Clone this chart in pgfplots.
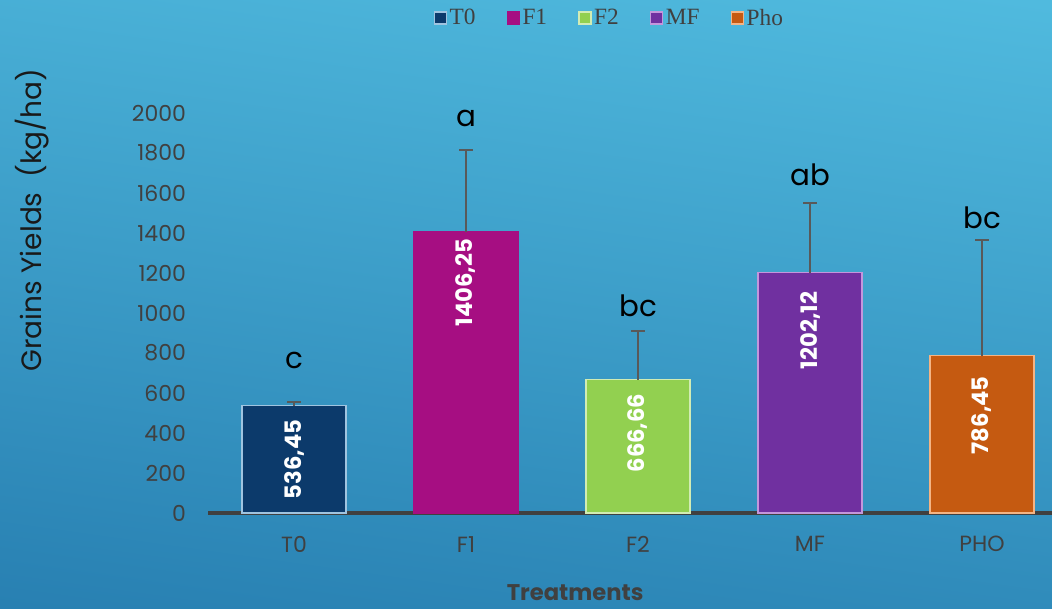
\documentclass[border=0pt]{standalone}
\usepackage{fontspec}
\setmainfont{Poppins}
\newfontfamily\legfont{Liberation Serif}
\usepackage{pgfplots}
\pgfplotsset{compat=1.18}

\definecolor{bgtop}{RGB}{80,186,222}
\definecolor{bgbot}{RGB}{40,128,178}
\definecolor{txt}{RGB}{64,64,64}
\definecolor{errc}{RGB}{89,89,89}
\definecolor{cT}{RGB}{12,58,107}
\definecolor{cTb}{RGB}{160,196,224}
\definecolor{cF}{RGB}{166,14,130}
\definecolor{cFt}{RGB}{146,208,80}
\definecolor{cFtb}{RGB}{210,236,180}
\definecolor{cM}{RGB}{112,48,160}
\definecolor{cMb}{RGB}{196,150,220}
\definecolor{cP}{RGB}{197,90,17}
\definecolor{cPb}{RGB}{244,180,132}

\pgfplotsset{
  sq legend/.style={legend image code/.code={\draw[##1,line width=0.8pt] (0pt,-4.5pt) rectangle (9pt,4.5pt);}},
  errs/.style={error bars/.cd, y dir=plus, y explicit,
    error bar style={color=errc, line width=1.5pt},
    error mark options={rotate=90, mark size=5.25pt, line width=1.5pt, color=errc}},
}

\begin{document}
\begin{tikzpicture}[x=0.75pt,y=0.75pt]
  \clip (0,0) rectangle (1052,609);
  \shade[top color=bgtop, bottom color=bgbot, shading angle=-8] (-40,-40) rectangle (1092,649);
  \begin{axis}[
    at={(156pt,72pt)}, anchor=south west,
    scale only axis, width=633pt, height=300pt,
    ybar, bar width=78pt,
    xmin=-0.5, xmax=4.407, ymin=0, ymax=2000,
    axis x line=bottom, axis y line=left,
    x axis line style={-, draw=txt, line width=2.4pt},
    y axis line style={draw=none},
    major tick length=0pt,
    xtick={0,1,2,3,4}, xticklabels={T0,F1,F2,MF,PHO},
    ytick={0,200,...,2000},
    /pgf/number format/assume math mode=true,
    /pgf/number format/1000 sep={},
    tick label style={font=\fontsize{16.5}{18}\selectfont, color=txt},
    yticklabel style={xshift=-13pt},
    xticklabel style={yshift=-14pt},
    ylabel={Grains Yields~~(kg/ha)},
    ylabel style={font=\fontsize{21}{24}\selectfont, color=black!90,
      at={(axis description cs:-0.2085,0.7325)}, anchor=center, rotate=0},
    xlabel={Treatments},
    xlabel style={font=\fontsize{17}{20}\selectfont\bfseries, color=txt,
      at={(axis description cs:0.435,-0.2)}, anchor=center},
    legend columns=5,
    legend style={draw=none, fill=none, at={(rel axis cs:0.476,1.2375)}, anchor=center,
      font=\legfont\fontsize{17.5}{20}\selectfont, text=txt,
      /tikz/every even column/.append style={column sep=21.5pt},
      inner sep=0pt, cells={anchor=west}},
    clip=false,
  ]
    \addplot[fill=cT, draw=cTb, line width=1.1pt, bar shift=0pt, sq legend, errs]
      coordinates {(0,536.45) +- (0,19)};
    \addplot[fill=cF, draw=cF, line width=1.1pt, bar shift=0pt, sq legend, errs]
      coordinates {(1,1406.25) +- (0,409)};
    \addplot[fill=cFt, draw=cFtb, line width=1.1pt, bar shift=0pt, sq legend, errs]
      coordinates {(2,666.66) +- (0,243)};
    \addplot[fill=cM, draw=cMb, line width=1.1pt, bar shift=0pt, sq legend, errs]
      coordinates {(3,1202.12) +- (0,348)};
    \addplot[fill=cP, draw=cPb, line width=1.1pt, bar shift=0pt, sq legend, errs]
      coordinates {(4,786.45) +- (0,579)};
    \legend{T0,F1,F2,MF,Pho}

    % value labels inside the bars
    \begin{scope}[every node/.style={font=\fontsize{17}{20}\selectfont\bfseries, text=white}]
      \node[yshift=-7pt, rotate=90, anchor=east] at (axis cs:0,536.45) {536,45};
      \node[yshift=-2pt, rotate=90, anchor=east] at (axis cs:1,1406.25) {1406,25};
      \node[yshift=-7pt, rotate=90, anchor=east] at (axis cs:2,666.66) {666,66};
      \node[yshift=-11pt, rotate=90, anchor=east] at (axis cs:3,1202.12) {1202,12};
      \node[yshift=-12pt, rotate=90, anchor=east] at (axis cs:4,786.45) {786,45};
    \end{scope}

    % significance letters
    \begin{scope}[every node/.style={font=\fontsize{22}{24}\selectfont, text=black}]
      \node at (axis cs:0,765) {c};
      \node at (axis cs:1,1975) {a};
      \node at (axis cs:2,1035) {bc};
      \node at (axis cs:3,1690) {ab};
      \node at (axis cs:4,1475) {bc};
    \end{scope}
  \end{axis}
\end{tikzpicture}
\end{document}
